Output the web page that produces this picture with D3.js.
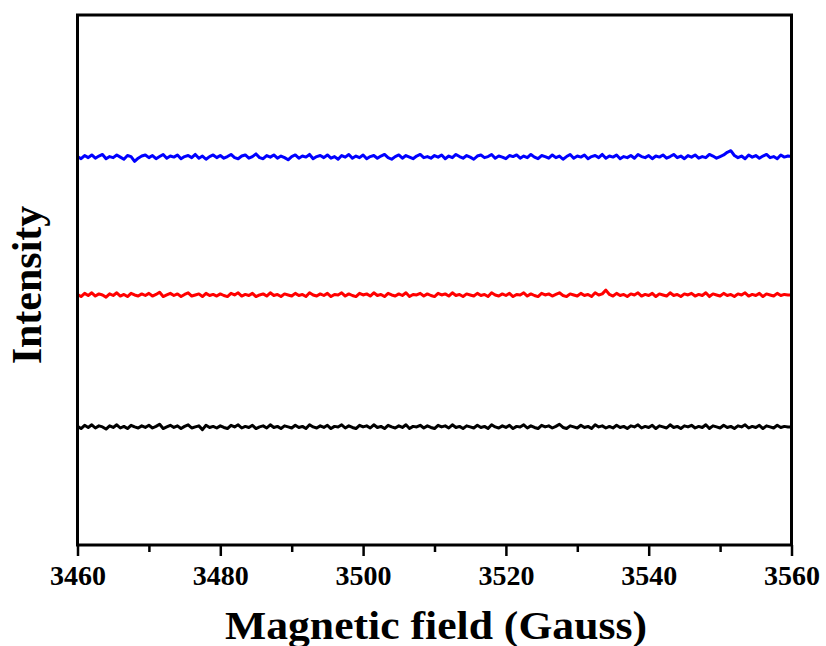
<!DOCTYPE html>
<html><head><meta charset="utf-8">
<script src="https://cdn.jsdelivr.net/npm/d3@7/dist/d3.min.js"></script>
<style>body{margin:0;background:#fff}svg{display:block}</style>
</head><body>
<script>
const xTicks = [3460, 3480, 3500, 3520, 3540, 3560];
const xMinorTicks = [3470, 3490, 3510, 3530, 3550];
const fieldStart = 3460, fieldEnd = 3560;
const blueValues = [
733,729,735,731,736,730,734,737,729,733,731,736,732,728,735,733,724,730,734,736,
731,735,729,733,737,730,734,732,736,729,733,735,731,737,730,734,728,733,736,731,
735,730,733,737,731,729,734,736,730,733,738,731,729,735,732,736,730,734,731,727,
733,736,730,734,732,737,729,733,735,731,736,730,733,728,735,732,737,730,734,731,
736,729,733,735,730,734,737,731,728,733,736,730,735,732,729,734,737,731,733,730,
735,732,736,729,734,731,737,733,730,735,732,728,734,736,731,733,737,730,734,732,
729,735,733,736,730,734,731,737,732,729,735,733,730,736,731,734,728,733,737,730,
734,732,736,729,733,735,731,737,730,734,732,736,729,733,731,735,730,737,733,731,
735,729,734,732,736,730,733,737,731,734,729,735,732,736,730,733,731,737,734,730,
733,736,741,744,735,731,734,729,736,732,735,730,734,737,731,733,729,736,732,734,
733];
const redValues = [
475,471,477,473,478,472,476,474,470,476,473,478,472,475,471,477,474,472,476,473,
477,472,475,479,471,474,477,473,476,471,475,478,472,474,476,471,477,473,475,472,
476,473,471,477,474,478,472,475,473,477,471,474,476,472,478,473,475,471,476,474,
472,477,473,475,471,478,474,472,476,473,477,471,475,474,478,472,476,473,471,477,
474,476,472,478,473,475,471,477,474,472,476,473,478,471,475,474,477,472,476,473,
471,477,474,476,472,478,473,475,471,476,474,472,477,473,475,471,478,474,472,476,
473,477,471,475,474,478,472,476,473,471,477,474,476,472,475,478,473,471,476,474,
472,477,473,475,471,478,474,476,483,475,472,477,473,475,471,476,474,478,472,475,
473,477,471,476,474,472,478,473,475,471,476,474,477,472,475,473,478,471,476,474,
472,477,473,475,471,476,474,478,472,475,473,477,471,476,474,472,477,473,475,474,
474];
const blackValues = [
228,224,230,226,231,225,229,227,223,229,226,231,225,228,224,230,227,225,229,226,
230,225,228,232,224,227,230,226,229,224,228,231,225,227,229,222,230,226,228,225,
229,226,224,230,227,231,225,228,226,230,224,227,229,225,231,226,228,224,229,227,
225,230,226,228,224,231,227,225,229,226,230,224,228,227,231,225,229,226,224,230,
227,229,225,231,226,228,224,230,227,225,229,226,231,224,228,227,230,225,229,226,
224,230,227,229,225,231,226,228,224,229,227,225,230,226,228,224,231,227,225,229,
226,230,224,228,227,231,225,229,226,224,230,227,229,225,228,232,226,224,229,227,
225,230,226,228,224,231,227,229,225,228,225,230,226,228,224,229,227,231,225,228,
226,230,224,229,227,225,231,226,228,224,229,227,230,225,228,226,231,224,229,227,
225,230,226,228,224,229,227,231,225,228,226,230,224,229,227,225,230,226,228,227,
227];
const seriesColors = ["#0000ff", "#ff0000", "#000000"];

const W = 826, H = 646;
const L = 77.5, R = 791.5, T = 15, B = 545;
const svg = d3.select("body").append("svg").attr("width", W).attr("height", H);
const x = d3.scaleLinear().domain([fieldStart, fieldEnd]).range([L, R]);
const y = d3.scaleLinear().domain([6, 998]).range([B, T]);

const series = [blueValues, redValues, blackValues];
series.forEach((vals, k) => {
  const step = (fieldEnd - fieldStart) / (vals.length - 1);
  const line = d3.line().x((d, i) => x(fieldStart + i * step)).y(d => y(d));
  svg.append("path").datum(vals).attr("d", line)
    .attr("fill", "none").attr("stroke", seriesColors[k]).attr("stroke-width", 3)
    .attr("stroke-linejoin", "round");
});

// frame
svg.append("rect").attr("x", L).attr("y", T).attr("width", R - L).attr("height", B - T)
  .attr("fill", "none").attr("stroke", "#000").attr("stroke-width", 3);

// x axis
const ax = svg.append("g").attr("transform", `translate(0,${B})`)
  .call(d3.axisBottom(x).tickValues(xTicks).tickSize(11).tickSizeOuter(0).tickPadding(9).tickFormat(d3.format("d")));
ax.select(".domain").remove();
ax.selectAll("line").attr("stroke-width", 2.5);
ax.selectAll("text").attr("font-family", "Liberation Serif").attr("font-weight", "bold")
  .attr("font-size", 28).attr("fill", "#000");
const axm = svg.append("g").attr("transform", `translate(0,${B})`)
  .call(d3.axisBottom(x).tickValues(xMinorTicks).tickSize(7).tickFormat(""));
axm.select(".domain").remove();
axm.selectAll("line").attr("stroke-width", 2.5);

svg.append("text").attr("x", 436).attr("y", 639).attr("text-anchor", "middle")
  .attr("font-family", "Liberation Serif").attr("font-weight", "bold").attr("font-size", 39)
  .attr("textLength", 422).attr("lengthAdjust", "spacingAndGlyphs")
  .text("Magnetic field (Gauss)");
svg.append("text").attr("transform", "translate(41,285) rotate(-90)").attr("text-anchor", "middle")
  .attr("font-family", "Liberation Serif").attr("font-weight", "bold").attr("font-size", 42)
  .text("Intensity");
</script>
</body></html>
